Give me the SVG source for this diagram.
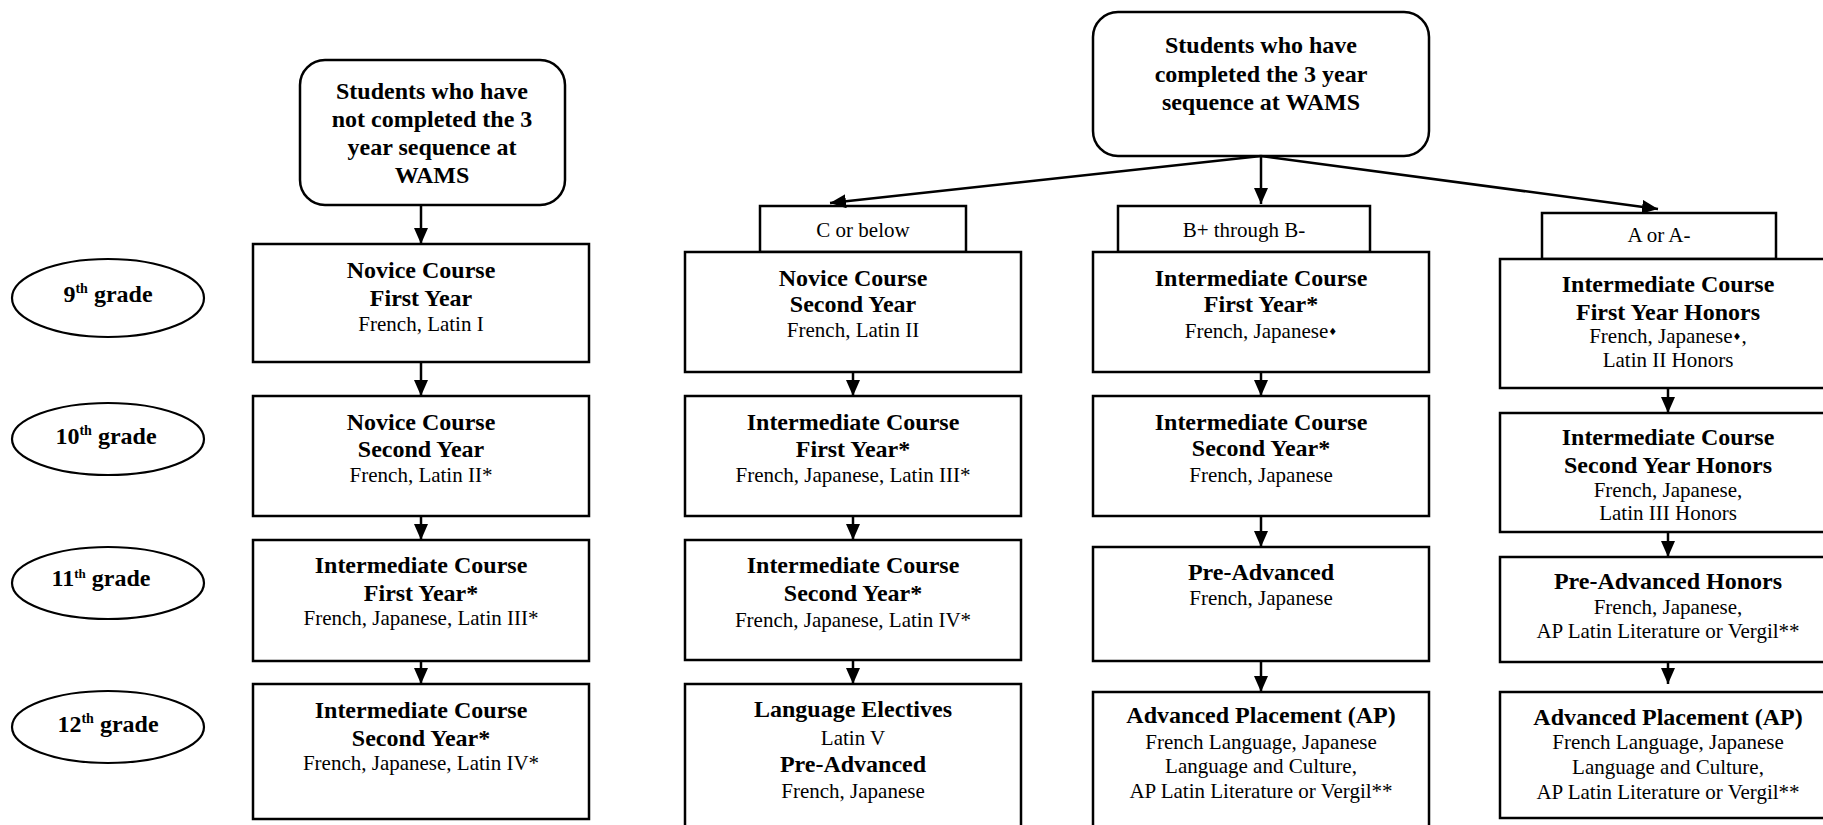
<svg xmlns="http://www.w3.org/2000/svg" width="1823" height="825" viewBox="0 0 1823 825">
<style>
.box{fill:#fff;stroke:#000;stroke-width:2.5}
.ell{fill:#fff;stroke:#000;stroke-width:2.2}
.b{font-family:"Liberation Serif","Times New Roman",serif;font-weight:bold;font-size:24px;text-anchor:middle;fill:#000}
.r{font-family:"Liberation Serif","Times New Roman",serif;font-size:21px;text-anchor:middle;fill:#000}
.conn line{stroke:#000;stroke-width:2.5;marker-end:url(#ah)}
.dia{font-family:"DejaVu Sans",sans-serif;font-size:10px}
</style>
<defs>
<marker id="ah" markerUnits="userSpaceOnUse" markerWidth="16" markerHeight="14" viewBox="0 0 16 14" refX="16" refY="7" orient="auto">
<path d="M0,0 L16,7 L0,14 z" fill="#000"/>
</marker>
</defs>
<rect width="1823" height="825" fill="#fff"/>

<g id="grades">
<g id="g9"><ellipse class="ell" cx="108" cy="298" rx="96" ry="39"/><text class="b" x="108" y="302">9<tspan font-size="14" dy="-9">th</tspan><tspan dy="9"> grade</tspan></text></g>
<g id="g10"><ellipse class="ell" cx="108" cy="439" rx="96" ry="36"/><text class="b" x="106" y="444">10<tspan font-size="14" dy="-9">th</tspan><tspan dy="9"> grade</tspan></text></g>
<g id="g11"><ellipse class="ell" cx="108" cy="583" rx="96" ry="36"/><text class="b" x="101" y="586" font-size="21.5">11<tspan font-size="13" dy="-8">th</tspan><tspan dy="8"> grade</tspan></text></g>
<g id="g12"><ellipse class="ell" cx="108" cy="727" rx="96" ry="36"/><text class="b" x="108" y="732">12<tspan font-size="14" dy="-9">th</tspan><tspan dy="9"> grade</tspan></text></g>
</g>

<g id="start-not">
<rect class="box" x="300" y="60" width="265" height="145" rx="25"/>
<text class="b" x="432" y="99">Students who have</text>
<text class="b" x="432" y="127">not completed the 3</text>
<text class="b" x="432" y="155">year sequence at</text>
<text class="b" x="432" y="183">WAMS</text>
</g>

<g id="start-completed">
<rect class="box" x="1093" y="12" width="336" height="144" rx="25"/>
<text class="b" x="1261" y="53">Students who have</text>
<text class="b" x="1261" y="82">completed the 3 year</text>
<text class="b" x="1261" y="110">sequence at WAMS</text>
</g>

<g id="L1"><rect class="box" x="253" y="244" width="336" height="118"/>
<text class="b" x="421" y="278">Novice Course</text><text class="b" x="421" y="306">First Year</text><text class="r" x="421" y="331">French, Latin I</text></g>
<g id="L2"><rect class="box" x="253" y="396" width="336" height="120"/>
<text class="b" x="421" y="430">Novice Course</text><text class="b" x="421" y="457">Second Year</text><text class="r" x="421" y="482">French, Latin II*</text></g>
<g id="L3"><rect class="box" x="253" y="540" width="336" height="121"/>
<text class="b" x="421" y="573">Intermediate Course</text><text class="b" x="421" y="601">First Year*</text><text class="r" x="421" y="625">French, Japanese, Latin III*</text></g>
<g id="L4"><rect class="box" x="253" y="684" width="336" height="135"/>
<text class="b" x="421" y="718">Intermediate Course</text><text class="b" x="421" y="746">Second Year*</text><text class="r" x="421" y="770">French, Japanese, Latin IV*</text></g>

<g id="labelC"><rect class="box" x="760" y="206" width="206" height="46"/><text class="r" x="863" y="237">C or below</text></g>
<g id="M1"><rect class="box" x="685" y="252" width="336" height="120"/>
<text class="b" x="853" y="286">Novice Course</text><text class="b" x="853" y="312">Second Year</text><text class="r" x="853" y="337">French, Latin II</text></g>
<g id="M2"><rect class="box" x="685" y="396" width="336" height="120"/>
<text class="b" x="853" y="430">Intermediate Course</text><text class="b" x="853" y="457">First Year*</text><text class="r" x="853" y="482">French, Japanese, Latin III*</text></g>
<g id="M3"><rect class="box" x="685" y="540" width="336" height="120"/>
<text class="b" x="853" y="573">Intermediate Course</text><text class="b" x="853" y="601">Second Year*</text><text class="r" x="853" y="627">French, Japanese, Latin IV*</text></g>
<g id="M4"><rect class="box" x="685" y="684" width="336" height="150"/>
<text class="b" x="853" y="717">Language Electives</text><text class="r" x="853" y="745" font-size="23.5">Latin V</text><text class="b" x="853" y="772">Pre-Advanced</text><text class="r" x="853" y="798">French, Japanese</text></g>

<g id="labelB"><rect class="box" x="1118" y="206" width="252" height="46"/><text class="r" x="1244" y="237">B+ through B-</text></g>
<g id="C1"><rect class="box" x="1093" y="252" width="336" height="120"/>
<text class="b" x="1261" y="286">Intermediate Course</text><text class="b" x="1261" y="312">First Year*</text><text class="r" x="1261" y="338">French, Japanese<tspan class="dia" dy="-3">♦</tspan></text></g>
<g id="C2"><rect class="box" x="1093" y="396" width="336" height="120"/>
<text class="b" x="1261" y="430">Intermediate Course</text><text class="b" x="1261" y="456">Second Year*</text><text class="r" x="1261" y="482">French, Japanese</text></g>
<g id="C3"><rect class="box" x="1093" y="547" width="336" height="114"/>
<text class="b" x="1261" y="580">Pre-Advanced</text><text class="r" x="1261" y="605">French, Japanese</text></g>
<g id="C4"><rect class="box" x="1093" y="692" width="336" height="142"/>
<text class="b" x="1261" y="723">Advanced Placement (AP)</text><text class="r" x="1261" y="749">French Language, Japanese</text><text class="r" x="1261" y="773">Language and Culture,</text><text class="r" x="1261" y="798">AP Latin Literature or Vergil**</text></g>

<g id="labelA"><rect class="box" x="1542" y="213" width="234" height="46"/><text class="r" x="1659" y="242">A or A-</text></g>
<g id="R1"><rect class="box" x="1500" y="259" width="336" height="129"/>
<text class="b" x="1668" y="292">Intermediate Course</text><text class="b" x="1668" y="320">First Year Honors</text><text class="r" x="1668" y="343">French, Japanese<tspan class="dia" dy="-3">♦</tspan><tspan dy="3">,</tspan></text><text class="r" x="1668" y="367">Latin II Honors</text></g>
<g id="R2"><rect class="box" x="1500" y="413" width="336" height="119"/>
<text class="b" x="1668" y="445">Intermediate Course</text><text class="b" x="1668" y="473">Second Year Honors</text><text class="r" x="1668" y="497">French, Japanese,</text><text class="r" x="1668" y="520">Latin III Honors</text></g>
<g id="R3"><rect class="box" x="1500" y="557" width="336" height="105"/>
<text class="b" x="1668" y="589">Pre-Advanced Honors</text><text class="r" x="1668" y="614">French, Japanese,</text><text class="r" x="1668" y="638">AP Latin Literature or Vergil**</text></g>
<g id="R4"><rect class="box" x="1500" y="692" width="336" height="126"/>
<text class="b" x="1668" y="725">Advanced Placement (AP)</text><text class="r" x="1668" y="749">French Language, Japanese</text><text class="r" x="1668" y="774">Language and Culture,</text><text class="r" x="1668" y="799">AP Latin Literature or Vergil**</text></g>

<g id="connectors" class="conn">
<line x1="421" y1="205" x2="421" y2="244"/>
<line x1="421" y1="362" x2="421" y2="396"/>
<line x1="421" y1="516" x2="421" y2="540"/>
<line x1="421" y1="661" x2="421" y2="684"/>
<line x1="1261" y1="156" x2="830" y2="203"/>
<line x1="1261" y1="156" x2="1261" y2="204"/>
<line x1="1261" y1="156" x2="1658" y2="209"/>
<line x1="853" y1="372" x2="853" y2="396"/>
<line x1="853" y1="516" x2="853" y2="540"/>
<line x1="853" y1="660" x2="853" y2="684"/>
<line x1="1261" y1="372" x2="1261" y2="396"/>
<line x1="1261" y1="516" x2="1261" y2="547"/>
<line x1="1261" y1="661" x2="1261" y2="692"/>
<line x1="1668" y1="388" x2="1668" y2="413"/>
<line x1="1668" y1="532" x2="1668" y2="557"/>
<line x1="1668" y1="662" x2="1668" y2="684"/>
</g>
</svg>
